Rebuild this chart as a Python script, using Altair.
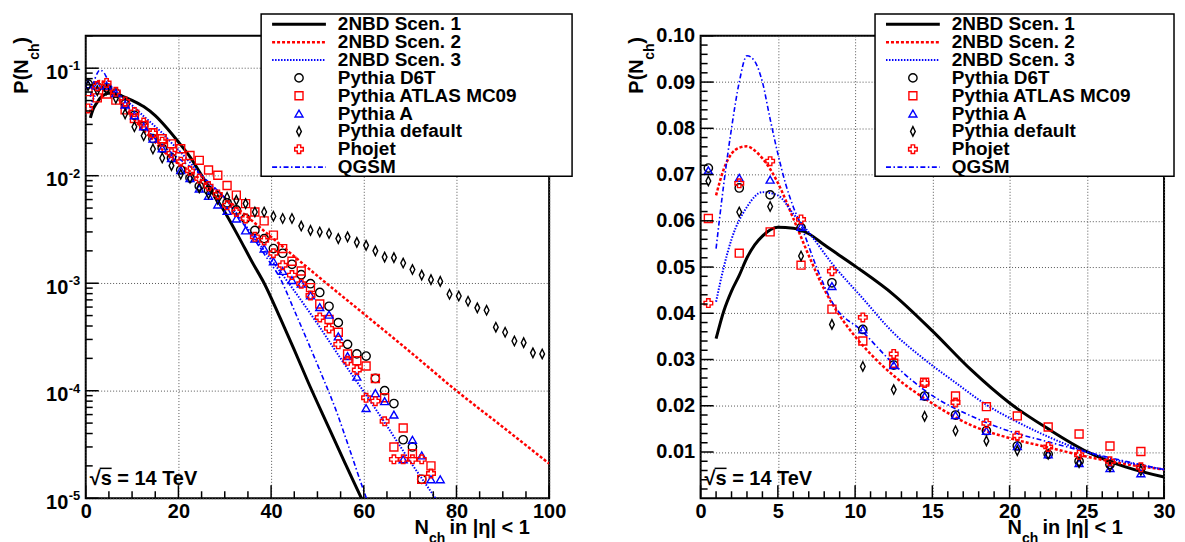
import altair as alt
import pandas as pd

FONT = "Liberation Sans"
W, H = 465, 464

# ---------------- data ----------------
d6t_N = [0.5, 2.5, 4.5, 6.5, 8.5, 10.5, 12.5, 14.5, 16.5, 18.5, 20.5, 22.5, 24.5, 26.5, 28.5,
         30.5, 32.5, 34.5, 36.5, 38.5, 40.5, 42.5, 44.5, 46.5, 48.5, 50.5, 52.5, 54.5, 56.5,
         58.5, 60.5, 62.5, 64.5, 66.5, 68.5, 70.5, 72.5]
d6t_P = [0.0714, 0.0671, 0.0656, 0.0585, 0.0466, 0.0365, 0.0288, 0.0221, 0.0180, 0.0146, 0.0113,
         0.0095, 0.0080, 0.0073, 0.0065, 0.0056, 0.0048, 0.0040, 0.0031, 0.0026, 0.0021, 0.0019,
         0.0015, 0.0012, 0.00099, 0.00082, 0.00061, 0.00043, 0.00027, 0.00022, 0.00021, 0.00013,
         0.00010, 0.000076, 0.000035, 0.000030, 0.000015]

atlas_N = [0.5, 2.5, 4.5, 6.5, 8.5, 10.5, 12.5, 14.5, 16.5, 18.5, 20.5, 22.5, 24.5, 26.5, 28.5,
           30.5, 32.5, 34.5, 36.5, 38.5, 40.5, 42.5, 44.5, 46.5, 48.5, 50.5, 52.5, 54.5, 56.5,
           58.5, 60.5, 62.5, 64.5, 66.5, 68.5, 70.5, 72.5, 74.5]
atlas_P = [0.0605, 0.0530, 0.0576, 0.0504, 0.0409, 0.0340, 0.0292, 0.0251, 0.0221, 0.0198, 0.0178,
           0.0154, 0.0139, 0.0113, 0.0101, 0.0081, 0.0066, 0.0055, 0.0046, 0.0038, 0.0028, 0.0021,
           0.0016, 0.0013, 0.00091, 0.00064, 0.00046, 0.00035, 0.00022, 0.00019, 0.00017, 0.00013,
           0.000086, 0.000030, 0.000045, 0.000026, 0.000015, 0.000020]

pyA_N = [0.5, 2.5, 4.5, 6.5, 8.5, 10.5, 12.5, 14.5, 16.5, 18.5, 20.5, 22.5, 24.5, 26.5, 28.5,
         30.5, 32.5, 34.5, 36.5, 38.5, 40.5, 42.5, 44.5, 46.5, 48.5, 50.5, 52.5, 54.5, 56.5,
         58.5, 60.5, 62.5, 64.5, 66.5, 68.5, 70.5, 72.5, 74.5, 76.5]
pyA_P = [0.0709, 0.0693, 0.0689, 0.0587, 0.0459, 0.0365, 0.0288, 0.0221, 0.0180, 0.0146, 0.0113,
         0.0095, 0.0076, 0.0065, 0.0054, 0.0047, 0.0040, 0.0031, 0.0026, 0.0021, 0.0016, 0.0013,
         0.00107, 0.00099, 0.00077, 0.00060, 0.00051, 0.00032, 0.00021, 0.000135, 0.000069,
         0.000095, 0.000080, 0.000060, 0.000023, 0.000035, 0.000025, 0.000015, 0.000015]

default_N = [0.5, 2.5, 4.5, 6.5, 8.5, 10.5, 12.5, 14.5, 16.5, 18.5, 20.5, 22.5, 24.5, 26.5, 28.5,
             30.5, 32.5, 34.5, 36.5, 38.5, 40.5, 42.5, 44.5, 46.5, 48.5, 50.5, 52.5, 54.5, 56.5,
             58.5, 60.5, 62.5, 64.5, 66.5, 68.5, 70.5, 72.5, 74.5, 76.5, 78.5, 80.5, 82.5, 84.5,
             86.5, 88.5, 90.5, 92.5, 94.5, 96.5, 98.5]
default_P = [0.0686, 0.0619, 0.0631, 0.0524, 0.0376, 0.0285, 0.0235, 0.0177, 0.0146, 0.0124,
             0.0103, 0.0095, 0.0077, 0.0068, 0.0060, 0.0063, 0.0059, 0.0055, 0.0046, 0.0046,
             0.0042, 0.0040, 0.0040, 0.0034, 0.0031, 0.0030, 0.0029, 0.0026, 0.0027, 0.0024,
             0.00225, 0.0020, 0.00175, 0.00173, 0.00154, 0.00134, 0.00119, 0.00108, 0.00104,
             0.00079, 0.00076, 0.00068, 0.00059, 0.00056, 0.00039, 0.00035, 0.00029, 0.00028,
             0.000225, 0.00022]

phojet_N = [0.5, 2.5, 4.5, 6.5, 8.5, 10.5, 12.5, 14.5, 16.5, 18.5, 20.5, 22.5, 24.5, 26.5, 28.5,
            30.5, 32.5, 34.5, 36.5, 38.5, 40.5, 42.5, 44.5, 46.5, 48.5, 50.5, 52.5, 54.5, 56.5,
            58.5, 60.5, 62.5, 64.5, 66.5, 68.5, 70.5, 72.5, 74.5]
phojet_P = [0.0422, 0.0681, 0.0729, 0.0603, 0.0491, 0.0391, 0.0312, 0.0249, 0.0207, 0.0162,
            0.0135, 0.0111, 0.0094, 0.0080, 0.0067, 0.0053, 0.0046, 0.0040, 0.0027, 0.0025,
            0.0019, 0.00147, 0.00119, 0.00099, 0.00077, 0.00048, 0.00038, 0.00027, 0.00019,
            0.000156, 0.000086, 0.000080, 0.000052, 0.000023, 0.000023, 0.000023, 0.000023,
            0.000017]

scen1_N = [1, 1.5, 2, 2.5, 3, 3.5, 4, 5, 6, 7, 8, 10, 12.5, 15, 17.5, 20, 22.5, 25, 27.5, 30,
           33, 36, 38.5, 42, 45, 48, 52, 56, 60, 62]
scen1_P = [0.0345, 0.0405, 0.0448, 0.0482, 0.0520, 0.0548, 0.0567, 0.0586, 0.0584, 0.0572,
           0.0548, 0.0502, 0.0440, 0.0362, 0.0278, 0.0206, 0.0150, 0.0101, 0.0068, 0.0046,
           0.0027, 0.00155, 0.0010, 0.00047, 0.00024, 0.00012, 0.000050, 0.000021, 0.0000090,
           0.0000060]

scen2_N = [1, 1.5, 2, 2.5, 3, 3.5, 4, 4.5, 5, 6, 7, 8, 9, 10, 11, 12.5, 15, 17.5, 20, 22.5, 25,
           27.5, 30, 35, 40, 50, 60, 70, 80, 90, 100]
scen2_P = [0.0655, 0.0712, 0.0745, 0.0758, 0.0761, 0.0752, 0.0735, 0.0712, 0.0682, 0.0605,
           0.0525, 0.0452, 0.0395, 0.0350, 0.0312, 0.0265, 0.0205, 0.0158, 0.0130, 0.0110,
           0.0090, 0.0074, 0.0062, 0.0041, 0.0027, 0.00117, 0.00052, 0.00023, 0.000100,
           0.000046, 0.000021]

scen3_N = [1, 1.5, 2, 3, 4, 5, 6, 7, 8.5, 10.5, 12.5, 14.5, 16.5, 18.5, 20.5, 22.5, 25, 27.5,
           30, 33, 36, 40, 45, 50, 55, 60, 65, 70, 75, 78]
scen3_P = [0.0425, 0.0500, 0.0560, 0.0630, 0.0662, 0.0655, 0.0615, 0.0575, 0.0508, 0.0432,
           0.0357, 0.0300, 0.0250, 0.0202, 0.0165, 0.0133, 0.0100, 0.0078, 0.0062, 0.0042,
           0.0028, 0.00166, 0.00085, 0.00042, 0.00020, 0.000098, 0.000047, 0.000022,
           0.0000107, 0.0000069]

qgsm_N = [1, 1.5, 2, 2.5, 3, 3.5, 4, 4.5, 5, 5.5, 6, 6.5, 7.5, 8.5, 10.5, 12.5, 15, 17.5, 20,
          22.5, 25, 27.5, 30, 33, 36, 39, 42, 45, 48, 51, 54, 57, 60, 61]
qgsm_P = [0.0540, 0.0680, 0.0800, 0.0900, 0.0957, 0.0945, 0.0900, 0.0820, 0.0745, 0.0680,
          0.0630, 0.0590, 0.0500, 0.0425, 0.0360, 0.0290, 0.0222, 0.0178, 0.0145, 0.0122,
          0.0100, 0.0080, 0.0062, 0.0041, 0.0027, 0.00174, 0.0011, 0.00056, 0.00028,
          0.000138, 0.000066, 0.000028, 0.0000117, 0.0000089]

legend_labels = ["2NBD Scen. 1", "2NBD Scen. 2", "2NBD Scen. 3", "Pythia D6T",
                 "Pythia ATLAS MC09", "Pythia A", "Pythia default", "Phojet", "QGSM"]

# tick values
left_x_major = [0, 20, 40, 60, 80, 100]
left_x_minor = [5, 10, 15, 25, 30, 35, 45, 50, 55, 65, 70, 75, 85, 90, 95]
left_y_major = [1e-5, 1e-4, 1e-3, 1e-2, 1e-1]
left_y_exp = ["-5", "-4", "-3", "-2", "-1"]
left_y_minor = [m * d for d in [1e-5, 1e-4, 1e-3, 1e-2] for m in range(2, 10)] + [0.2]
right_x_major = [0, 5, 10, 15, 20, 25, 30]
right_x_minor = [v for v in range(1, 30) if v % 5 != 0]
right_y_major = [0.01, 0.02, 0.03, 0.04, 0.05, 0.06, 0.07, 0.08, 0.09, 0.10]
right_y_minor = [round(0.002 * k, 3) for k in range(1, 50) if k % 5 != 0]

# ---------------- styles ----------------
DIAMOND = "M0,-1L0.5,0L0,1L-0.5,0Z"
curve_specs = [
    (scen1_N, scen1_P, dict(color="black", strokeWidth=3)),
    (scen2_N, scen2_P, dict(color="#ff0000", strokeWidth=2.5, strokeDash=[3, 2])),
    (scen3_N, scen3_P, dict(color="#0000ff", strokeWidth=2, strokeDash=[1.5, 1.5])),
    (qgsm_N, qgsm_P, dict(color="#0000ff", strokeWidth=1.6, strokeDash=[5, 2.5, 1.5, 2.5])),
]
point_specs = [
    (d6t_N, d6t_P, dict(shape="circle", color="black", size=70)),
    (atlas_N, atlas_P, dict(shape="square", color="#ff0000", size=64)),
    (pyA_N, pyA_P, dict(shape="triangle-up", color="#0000ff", size=64)),
    (default_N, default_P, dict(shape=DIAMOND, color="black", size=90)),
    (phojet_N, phojet_P, dict(shape="cross", color="#ff0000", size=75)),
]
legend_styles = [
    ("line", curve_specs[0][2]), ("line", curve_specs[1][2]), ("line", curve_specs[2][2]),
    ("point", point_specs[0][2]), ("point", point_specs[1][2]), ("point", point_specs[2][2]),
    ("point", point_specs[3][2]), ("point", point_specs[4][2]), ("line", curve_specs[3][2]),
]


def one():
    return alt.Data(values=[{"a": 1}])


def txt(s, x, y, size=20, align="left", angle=0, baseline="alphabetic"):
    return alt.Chart(one()).mark_text(
        text=s, font=FONT, fontWeight="bold", fontSize=size, align=align,
        baseline=baseline, angle=angle, color="black"
    ).encode(x=alt.value(x), y=alt.value(y))


def panel(xscale, yscale, xaxis, yaxis, xmaj, xmin, ymaj, ymin, box_l, box_r, log=False):
    def X():
        return alt.X("N:Q", scale=xscale, axis=xaxis, title=None)

    def Y():
        return alt.Y("P:Q", scale=yscale, axis=yaxis, title=None)

    layers = []
    for N, P, st in curve_specs:
        layers.append(alt.Chart(pd.DataFrame({"N": N, "P": P})).mark_line(
            clip=True, interpolate="monotone", **st).encode(x=X(), y=Y()))
    for N, P, st in point_specs:
        layers.append(alt.Chart(pd.DataFrame({"N": N, "P": P})).mark_point(
            clip=True, filled=False, opacity=1, strokeWidth=1.4, **st).encode(x=X(), y=Y()))
    # inward ticks
    for vals, ln in [(xmaj, 13), (xmin, 7)]:
        layers.append(alt.Chart(pd.DataFrame({"N": vals})).mark_rule(
            color="black", strokeWidth=1.5).encode(x=X(), y=alt.value(H), y2=alt.value(H - ln)))
    for vals, ln in [(ymaj, 13), (ymin, 7)]:
        layers.append(alt.Chart(pd.DataFrame({"P": vals})).mark_rule(
            color="black", strokeWidth=1.5).encode(y=Y(), x=alt.value(0), x2=alt.value(ln)))
    if log:
        layers.append(alt.Chart(pd.DataFrame({"P": left_y_major, "e": left_y_exp})).mark_text(
            font=FONT, fontWeight="bold", fontSize=13, align="left", baseline="middle",
            dy=-2, color="black").encode(y=Y(), x=alt.value(-17), text="e:N"))
    # legend
    layers.append(alt.Chart(one()).mark_rect(fill="white", stroke="black", strokeWidth=1.5).encode(
        x=alt.value(box_l), x2=alt.value(box_r), y=alt.value(-22), y2=alt.value(141)))
    for i, (lab, (kind, st)) in enumerate(zip(legend_labels, legend_styles)):
        yy = -11.5 + 17.9 * i
        if kind == "line":
            layers.append(alt.Chart(one()).mark_rule(**st).encode(
                x=alt.value(box_l + 11), x2=alt.value(box_l + 65), y=alt.value(yy)))
        else:
            layers.append(alt.Chart(one()).mark_point(filled=False, opacity=1, strokeWidth=1.4,
                                                      **st).encode(
                x=alt.value(box_l + 38), y=alt.value(yy)))
        layers.append(txt(lab, box_l + 77, yy, size=19, baseline="middle"))
    # sqrt(s) label with overline on s
    layers.append(txt("√s = 14 TeV", 4, 451, size=20))
    layers.append(alt.Chart(one()).mark_rule(color="black", strokeWidth=1.5).encode(
        x=alt.value(14), x2=alt.value(26), y=alt.value(434)))
    # y title P(N_ch)
    layers.append(txt("P(N", -58, 58, angle=270))
    layers.append(txt("ch", -47, 24, size=14, angle=270))
    layers.append(txt(")", -58, 8, angle=270))
    return alt.layer(*layers).properties(width=W, height=H)


grid_kw = dict(grid=True, gridColor="#555", gridDash=[1, 2], gridWidth=1)

left = panel(
    alt.Scale(domain=[0, 100], nice=False, zero=False),
    alt.Scale(type="log", domain=[1e-5, 0.2], nice=False),
    alt.Axis(values=left_x_major, format="d", labelPadding=3, labelFlush=False, **grid_kw),
    alt.Axis(values=left_y_major, labelExpr="'10'", labelPadding=18, labelBaseline="middle",
             labelOffset=4, **grid_kw),
    left_x_major, left_x_minor, left_y_major, left_y_minor, 176, 488, log=True)

right = panel(
    alt.Scale(domain=[0, 30], nice=False, zero=False),
    alt.Scale(domain=[0, 0.1], nice=False, zero=False),
    alt.Axis(values=right_x_major, format="d", labelPadding=3, labelFlush=False, **grid_kw),
    alt.Axis(values=right_y_major, format=".2f", labelPadding=6, labelBaseline="middle",
             **grid_kw),
    right_x_major, right_x_minor, right_y_major, right_y_minor, 175, 475)


# x titles N_ch in |eta| < 1
def xtitle(x0):
    return [txt("N", x0, H + 36), txt("ch", x0 + 14.5, H + 45, size=14),
            txt("in |η| < 1", x0 + 35, H + 36)]


left = alt.layer(left, *xtitle(330))
right = alt.layer(right, *xtitle(308))

chart = alt.hconcat(left, right, spacing=152, bounds="flush").properties(
    padding={"left": 3, "top": 3, "right": 0, "bottom": 0}
).configure_view(stroke="black", strokeWidth=2).configure_axis(
    labelFont=FONT, labelFontWeight="bold", labelFontSize=20, labelColor="black",
    ticks=False, domain=False
)

chart.save("out.html", embed_options={"renderer": "svg", "actions": False})
